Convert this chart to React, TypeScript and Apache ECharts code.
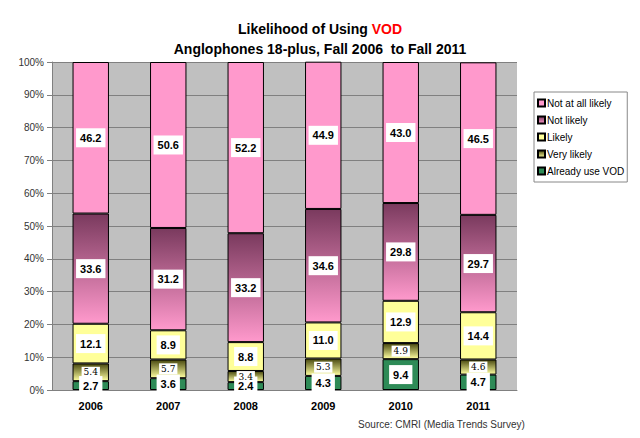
import * as echarts from 'echarts';
import { useEffect, useRef } from 'react';

const years = ['2006', '2007', '2008', '2009', '2010', '2011'];
const alreadyUse = [2.7, 3.6, 2.4, 4.3, 9.4, 4.7];
const veryLikely = [5.4, 5.7, 3.4, 5.3, 4.9, 4.6];
const likely = [12.1, 8.9, 8.8, 11.0, 12.9, 14.4];
const notLikely = [33.6, 31.2, 33.2, 34.6, 29.8, 29.7];
const notAtAll = [46.2, 50.6, 52.2, 44.9, 43.0, 46.5];

const grad = (top: string, bottom: string) =>
  new echarts.graphic.LinearGradient(0, 0, 0, 1, [
    { offset: 0, color: top },
    { offset: 1, color: bottom },
  ]);

export default function App() {
  const ref = useRef<HTMLDivElement>(null);

  useEffect(() => {
    const chart = echarts.init(ref.current!, undefined, { renderer: 'svg' });
    const label = (size = 11, serif = false) => ({
      show: true,
      position: 'inside',
      formatter: (p: any) => p.value.toFixed(1),
      backgroundColor: '#fff',
      padding: serif ? [1, 2] : [4, 4],
      color: '#000',
      fontSize: size,
      fontWeight: serif ? 'normal' : 'bold',
      fontFamily: serif ? 'DejaVu Serif' : 'Arial',
    });
    const bar = (name: string, data: number[], color: any, lbl: any) => ({
      name,
      type: 'bar',
      stack: 'all',
      data,
      barWidth: '47%',
      itemStyle: { color, borderColor: '#000', borderWidth: 1 },
      label: lbl,
    });
    chart.setOption({
      animation: false,
      textStyle: { fontFamily: 'Arial' },
      title: {
        text: '{a|Likelihood of Using }{r|VOD}\n{a|Anglophones 18-plus, Fall 2006  to Fall 2011}',
        left: 'center',
        top: 6,
        textStyle: {
          rich: {
            a: { fontSize: 14, fontWeight: 'bold', color: '#000', fontFamily: 'Arial', lineHeight: 20 },
            r: { fontSize: 14, fontWeight: 'bold', color: '#ff0000', fontFamily: 'Arial', lineHeight: 20 },
          },
        },
      },
      grid: { left: 44, right: 115, top: 54, bottom: 48, backgroundColor: '#c0c0c0', show: true, borderWidth: 0 },
      legend: {
        orient: 'vertical',
        left: 526,
        top: 84,
        data: ['Not at all likely', 'Not likely', 'Likely', 'Very likely', 'Already use VOD'],
        itemWidth: 7,
        itemHeight: 7,
        itemGap: 7,
        backgroundColor: '#fff',
        borderColor: '#888',
        borderWidth: 1,
        padding: [6, 3],
        textStyle: { fontSize: 10, color: '#000', padding: [0, 0, 0, -3] },
        icon: 'rect',
      },
      xAxis: {
        type: 'category',
        data: years,
        axisLine: { lineStyle: { color: '#808080' } },
        axisTick: { lineStyle: { color: '#808080' } },
        axisLabel: { fontWeight: 'bold', color: '#000', fontSize: 11, margin: 10 },
      },
      yAxis: {
        type: 'value',
        min: 0,
        max: 100,
        interval: 10,
        axisLine: { show: true, lineStyle: { color: '#808080' } },
        axisTick: { show: true, lineStyle: { color: '#808080' } },
        splitLine: { lineStyle: { color: '#808080' } },
        axisLabel: { formatter: '{value}%', color: '#333', fontSize: 10 },
      },
      graphic: [
        {
          type: 'text',
          right: 107,
          top: 411,
          style: { text: 'Source: CMRI (Media Trends Survey)', fontSize: 10, fill: '#333', fontFamily: 'Arial' },
        },
      ],
      series: [
        bar('Already use VOD', alreadyUse, '#2e8b57', label(11)),
        bar('Very likely', veryLikely, grad('#4a4a10', '#ffffa0'), label(9, true)),
        bar('Likely', likely, '#ffff99', label(11)),
        bar('Not likely', notLikely, grad('#7a3a5e', '#ff99cc'), label(11)),
        bar('Not at all likely', notAtAll, '#ff99cc', label(11)),
      ],
    });
    return () => chart.dispose();
  }, []);

  return <div ref={ref} style={{ width: 624, height: 430 }} />;
}
